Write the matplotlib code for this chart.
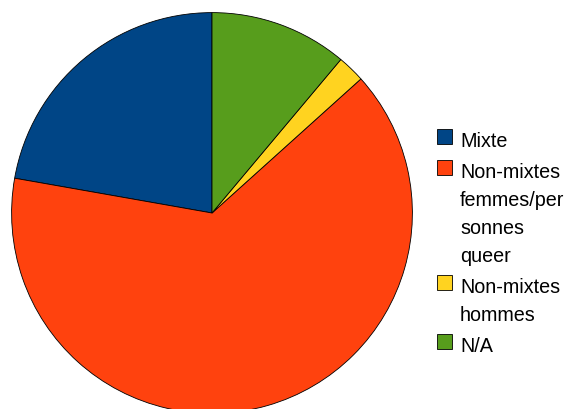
import matplotlib
matplotlib.use('Agg')
from matplotlib import pyplot as plt
from matplotlib.patches import Rectangle

plt.rcParams['font.family'] = ['Liberation Sans', 'DejaVu Sans']

labels = ['Mixte', 'Non-mixtes\nfemmes/per\nsonnes\nqueer', 'Non-mixtes\nhommes', 'N/A']
counts = [10, 29, 1, 5]
colors = ['#004586', '#ff420e', '#ffd320', '#579d1c']

W, H = 576, 409
fig = plt.figure(figsize=(W / 100, H / 100), dpi=100)

# pie: centre (212, 213) px from top-left, radius 201 px
cx, cy, r = 212, 213, 201
ax = fig.add_axes([(cx - r) / W, (H - cy - r) / H, 2 * r / W, 2 * r / H])
ax.pie(counts, colors=colors, startangle=90, counterclock=True, radius=1,
       wedgeprops=dict(edgecolor='black', linewidth=0.6))
ax.set_xlim(-1.003, 1.003)
ax.set_ylim(-1.003, 1.003)
ax.set_aspect('equal')
ax.axis('off')

# legend drawn in pixel coordinates
lg = fig.add_axes([0, 0, 1, 1])
lg.set_xlim(0, W)
lg.set_ylim(H, 0)
lg.axis('off')
y = 147
line_h = 28
for lab, col in zip(labels, colors):
    lg.add_patch(Rectangle((437, y - 18), 15, 15, facecolor=col,
                           edgecolor='black', linewidth=0.6))
    lines = lab.split('\n')
    for i, ln in enumerate(lines):
        lg.text(460, y + i * line_h, ln, fontsize=14.2, va='baseline',
                ha='left', color='black')
    y += len(lines) * line_h + 3

fig.savefig('out.png', dpi=100)
